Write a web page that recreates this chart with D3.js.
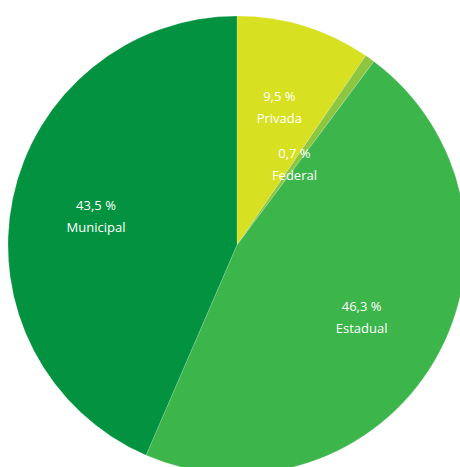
<!DOCTYPE html>
<html>
<head>
<meta charset="utf-8">
<script src="https://cdn.jsdelivr.net/npm/d3@7"></script>
<style>
body{margin:0;background:#fff;}
svg{display:block;}
text{font-family:"Open Sans",sans-serif;font-size:13px;fill:#fff;}
</style>
</head>
<body>
<svg width="460" height="467"></svg>
<script>
const categories=["Privada","Federal","Estadual","Municipal"];
const values=[9.5,0.7,46.3,43.5];
const colors=["#d8e022","#8dc63f","#3cb54b","#03923f"];

const svg=d3.select("svg");
const cx=237, cy=245, radius=229;
const g=svg.append("g").attr("transform","translate("+cx+","+cy+")");

const pie=d3.pie().sort(null).value(d=>d);
const arcs=pie(values);
const arc=d3.arc().innerRadius(0).outerRadius(radius);
const labelArc=d3.arc().innerRadius(144).outerRadius(144);
const smallArc=d3.arc().innerRadius(99).outerRadius(99);

g.selectAll("path")
  .data(arcs)
  .enter()
  .append("path")
  .attr("d",arc)
  .attr("fill",(d,i)=>colors[i])
  .attr("stroke","#fff")
  .attr("stroke-opacity",0.35)
  .attr("stroke-width",0.5);

const fmt=v=>String(v).replace(".",",")+" %";

const lab=g.selectAll("g.lab")
  .data(arcs)
  .enter()
  .append("g")
  .attr("class","lab")
  .attr("transform",d=>{
    const c=(d.data<2?smallArc:labelArc).centroid(d);
    return "translate("+c[0]+","+c[1]+")";
  });

lab.append("text")
  .attr("text-anchor","middle")
  .attr("y",-6)
  .text(d=>fmt(d.data));
lab.append("text")
  .attr("text-anchor","middle")
  .attr("y",16)
  .text((d,i)=>categories[i]);
</script>
</body>
</html>
